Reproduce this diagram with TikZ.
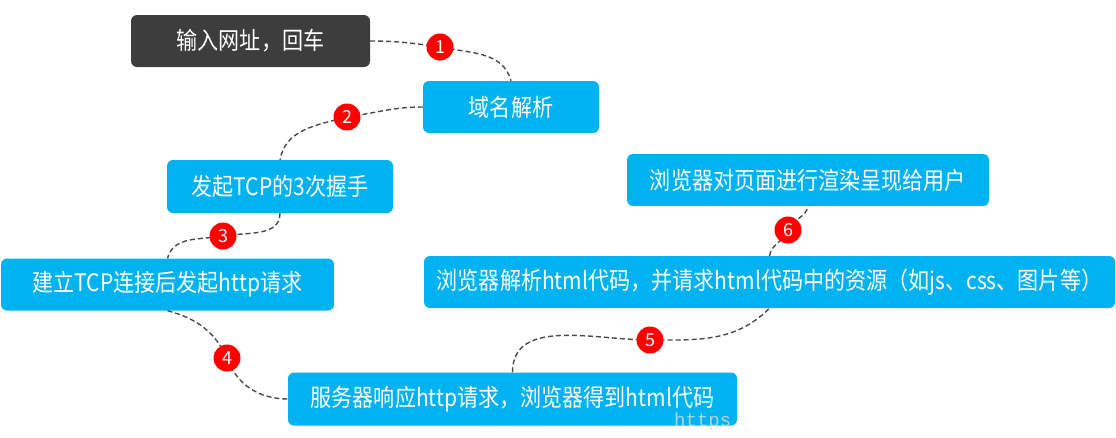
\documentclass[tikz,border=0pt]{standalone}
\usepackage{fontspec}
\newfontfamily\cjk{Noto Sans CJK SC}
\newfontfamily\wmfont{Liberation Mono}
\definecolor{boxblue}{HTML}{00B2EF}
\definecolor{boxdark}{HTML}{3D3D3D}
\definecolor{linegray}{HTML}{4A4A4A}
\newcommand{\tall}[1]{\scalebox{0.98}[1.12]{#1}}
\begin{document}
\begin{tikzpicture}[x=1pt,y=1pt,
  stepbox/.style={fill=boxblue, rounded corners=6pt, inner sep=0pt,
     text=white, font=\cjk\fontsize{21.5}{24}\selectfont},
  darkbox/.style={stepbox, fill=boxdark},
  badge/.style={circle, fill=red, inner sep=0pt, minimum size=27pt,
     text=white, font=\cjk\fontsize{18}{20}\selectfont},
  conn/.style={draw=linegray, line width=1.4pt, dash pattern=on 5pt off 3pt}]
\useasboundingbox (0,0) rectangle (1116,-437);
% boxes
\node[darkbox, minimum width=239pt, minimum height=52pt] (n1) at (250.5,-41) {\tall{输入网址，回车}};
\node[stepbox, minimum width=176pt, minimum height=52pt] (n2) at (511,-107) {\tall{域名解析}};
\node[stepbox, minimum width=226pt, minimum height=53pt] (n3) at (280,-186.5) {\tall{发起TCP的3次握手}};
\node[stepbox, minimum width=333pt, minimum height=52pt] (n4) at (167.5,-284.5) {\tall{建立TCP连接后发起http请求}};
\node[stepbox, minimum width=449pt, minimum height=53pt] (n5) at (512.5,-399) {\tall{服务器响应http请求，浏览器得到html代码}};
\node[stepbox, minimum width=691pt, minimum height=52pt] (n6) at (769.5,-282) {\tall{浏览器解析html代码，并请求html代码中的资源（如js、css、图片等）}};
\node[stepbox, minimum width=362pt, minimum height=52pt] (n7) at (808,-180) {\tall{浏览器对页面进行渲染呈现给用户}};
% badge positions
\coordinate (b1) at (440,-47);
\coordinate (b2) at (347,-117);
\coordinate (b3) at (223,-236);
\coordinate (b4) at (227,-358);
\coordinate (b5) at (650,-340);
\coordinate (b6) at (788,-230);
% connectors
\draw[conn] (n1.east) to[out=0,in=172] (b1) to[out=-12,in=105] (n2.north);
\draw[conn] (n2.west) to[out=180,in=8] (b2) to[out=195,in=80] (n3.north);
\draw[conn] (n3.south) to[out=-90,in=10] (b3) to[out=190,in=75] (n4.north);
\draw[conn] (n4.south) to[out=-15,in=115] (b4) to[out=-70,in=180] (n5.west);
\draw[conn] (n5.north) to[out=90,in=180] (b5) to[out=0,in=-135] (n6.south);
\draw[conn] (n6.north) to[out=80,in=-110] (b6) to[out=70,in=-100] (n7.south);
% badges
\node[badge] (c1) at (b1) {1};
\node[badge] (c2) at (b2) {2};
\node[badge] (c3) at (b3) {3};
\node[badge] (c4) at (b4) {4};
\node[badge] (c5) at (b5) {5};
\node[badge] (c6) at (b6) {6};
% watermark
\node[text=gray!28, opacity=0.8, font=\wmfont\fontsize{19}{21}\selectfont, anchor=west, inner sep=0pt] (wm) at (674,-422) {https};
\end{tikzpicture}
\end{document}
